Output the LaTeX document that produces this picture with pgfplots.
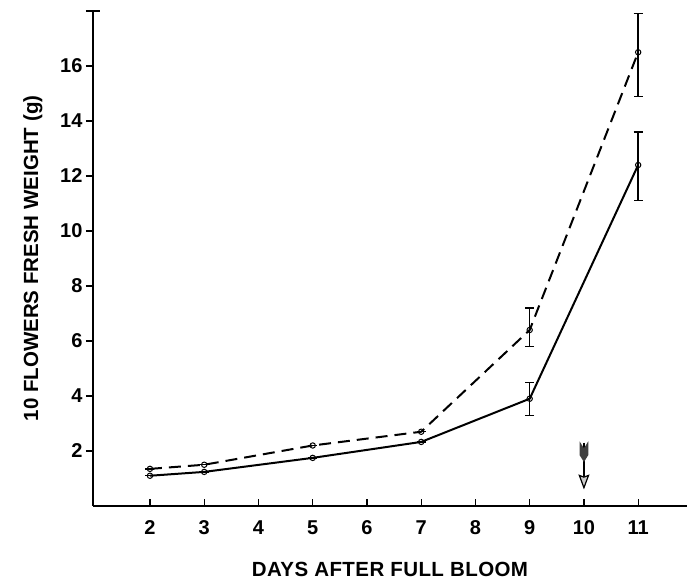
\documentclass[border=0pt]{standalone}
\usepackage{pgfplots}
\pgfplotsset{compat=1.18}
\usepackage{pgfplotstable}
\usepackage{fontspec}
\setmainfont{Liberation Sans}
\usetikzlibrary{arrows.meta}
\pgfplotstableread{
x y ep em
2 1.10 0 0
3 1.24 0 0
5 1.75 0 0
7 2.33 0 0
9 3.90 0.6 0.6
11 12.4 1.2 1.3
}\solid
\pgfplotstableread{
x y ep em
2 1.35 0 0
3 1.50 0 0
5 2.20 0 0
7 2.70 0 0
9 6.40 0.8 0.6
11 16.5 1.4 1.6
}\dashed
\begin{document}
\begin{tikzpicture}
\begin{axis}[
  scale only axis, width=594pt, height=495pt,
  xmin=0.95, xmax=11.9, ymin=0, ymax=18,
  axis x line=bottom, axis y line=left,
  axis line style={-, line width=1.3pt},
  xtick={2,...,11}, ytick={2,4,...,16},
  xtick align=inside, ytick align=outside,
  major tick length=7pt,
  tick style={line width=1.3pt, black},
  extra y ticks={18}, extra y tick labels={},
  extra y tick style={tick align=center, major tick length=14pt},
  tick label style={font=\fontsize{20}{22}\selectfont\bfseries},
  /pgf/number format/assume math mode=true,
  xticklabel style={yshift=-11pt},
  label style={font=\fontsize{20.5}{23}\selectfont\bfseries},
  xlabel={\addfontfeature{LetterSpace=2}DAYS AFTER FULL BLOOM},
  ylabel={10 FLOWERS FRESH WEIGHT (g)},
  xlabel style={yshift=-21pt},
  ylabel style={yshift=-3pt},
  clip=false,
]
\addplot[black, line width=2pt, mark=o, mark size=2.7pt,
  mark options={fill=white, line width=1pt, solid},
  error bars/.cd, y dir=both, y explicit,
  error bar style={line width=1.6pt}, error mark options={rotate=90, line width=1.3pt, mark size=4.5pt}]
  table[x=x, y=y, y error plus=ep, y error minus=em] {\solid};
\addplot[black, line width=2pt, dash pattern=on 12pt off 7pt, mark=o, mark size=2.7pt,
  mark options={fill=white, line width=1pt, solid},
  error bars/.cd, y dir=both, y explicit,
  error bar style={line width=1.6pt, solid}, error mark options={rotate=90, line width=1.3pt, mark size=4.5pt, solid}]
  table[x=x, y=y, y error plus=ep, y error minus=em] {\dashed};
\draw[line width=1.3pt, -{Stealth[open, length=15pt, width=11pt, inset=2pt, fill=gray!40, line width=1.2pt]}] (axis cs:10,2.3) -- (axis cs:10,0.6);
\fill[black!75] (axis cs:9.92,2.35) -- (axis cs:10,2.1) -- (axis cs:10.08,2.35) -- (axis cs:10.08,1.85) -- (axis cs:10,1.6) -- (axis cs:9.92,1.85) -- cycle;
\end{axis}
\path (current axis.south west) ++(-93pt,-77pt) coordinate (bl);
\path (current axis.north east) ++(2pt,11pt) coordinate (tr);
\useasboundingbox (bl) rectangle (tr);
\end{tikzpicture}
\end{document}
